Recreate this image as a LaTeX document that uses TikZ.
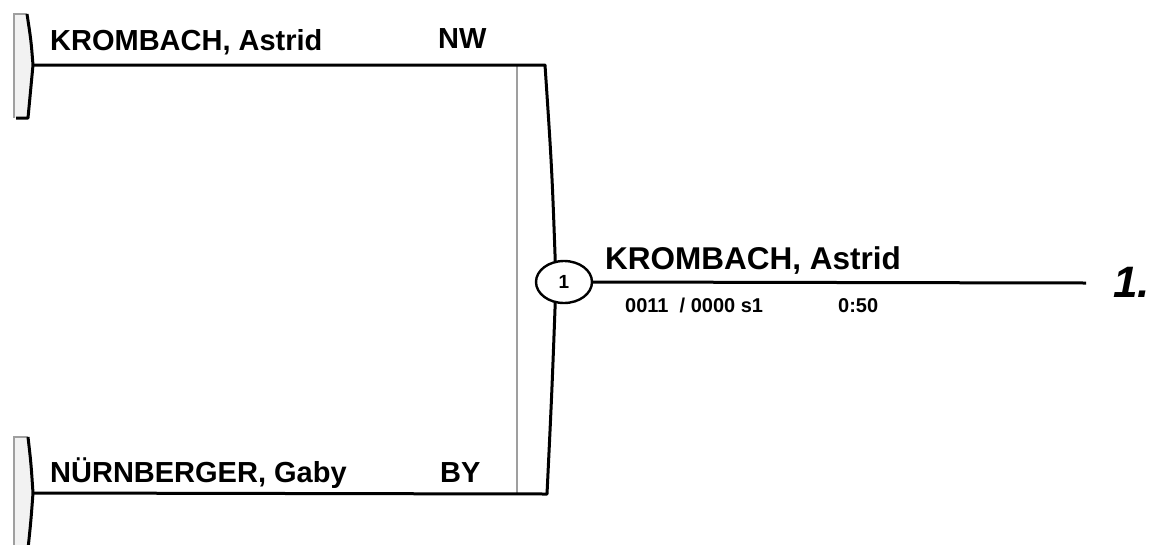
\documentclass[tikz,border=0pt]{standalone}
\usepackage{fontspec}
\setmainfont{Liberation Sans}
\usetikzlibrary{positioning,shapes.geometric}
\begin{document}
\begin{tikzpicture}[x=1pt,y=-1pt,
  line/.style={line width=3pt,line join=round},
  rim/.style={draw=gray!75,line width=1.8pt},
  pad/.style={fill=gray!10},
  entrant/.style={anchor=base west,inner sep=0pt,font=\bfseries\fontsize{29}{32}\selectfont},
  winner/.style={anchor=base west,inner sep=0pt,font=\bfseries\fontsize{31.5}{36}\selectfont},
  score/.style={anchor=base west,inner sep=0pt,font=\bfseries\fontsize{20}{24}\selectfont},
  bout/.style={ellipse,draw,line width=2.4pt,fill=white,minimum width=56pt,minimum height=42pt,inner sep=0pt,font=\bfseries\fontsize{19}{21}\selectfont}]
\useasboundingbox (0,0) rectangle (1161,544);
\coordinate (p1) at (33,65);
\coordinate (p2) at (33,493);
\coordinate (m1) at (545,65);
\coordinate (m2) at (547,494);
\coordinate (c1) at (556,282);
\coordinate (fin) at (1086,283);
% entry brackets
\fill[pad] (14,14) -- (27,14) .. controls (31,40) .. (p1) .. controls (31,92) .. (28,118) -- (14,118) -- cycle;
\draw[rim] (27,14) -- (14,14) -- (14,118);
\draw[line] (27,14) .. controls (31,40) .. (p1) .. controls (31,92) .. (28,118) -- (16,118);
\fill[pad] (14,437) -- (28,437) .. controls (31,463) .. (p2) .. controls (31,520) .. (28,549) -- (14,549) -- cycle;
\draw[rim] (28,437) -- (14,437) -- (14,549);
\draw[line] (28,437) .. controls (31,463) .. (p2) .. controls (31,520) .. (28,549);
% bout bracket
\draw[rim] (517,65) -- (517,494);
\draw[line] (p1) -- (m1) .. controls (552,170) .. (c1) .. controls (552,390) .. (m2) -- (p2);
\node[bout] (r1) at (564,282) {1};
\draw[line] (r1.east) -- (fin);
% texts
\node[entrant] (a1) at (50,50) {KROMBACH, Astrid};
\node[entrant] (a1s) at (438,48) {NW};
\node[entrant] (b1) at (50,482) {NÜRNBERGER, Gaby};
\node[entrant] (b1s) at (440,482) {BY};
\node[winner] (w1) at (605,269) {KROMBACH, Astrid};
\node[score] (w1r) at (625,312) {0011\ \ / 0000 s1};
\node[score] (w1t) at (838,312) {0:50};
\node[anchor=base west,inner sep=0pt,font=\bfseries\itshape\fontsize{44}{48}\selectfont] (rank) at (1113,297) {1.};
\end{tikzpicture}
\end{document}
